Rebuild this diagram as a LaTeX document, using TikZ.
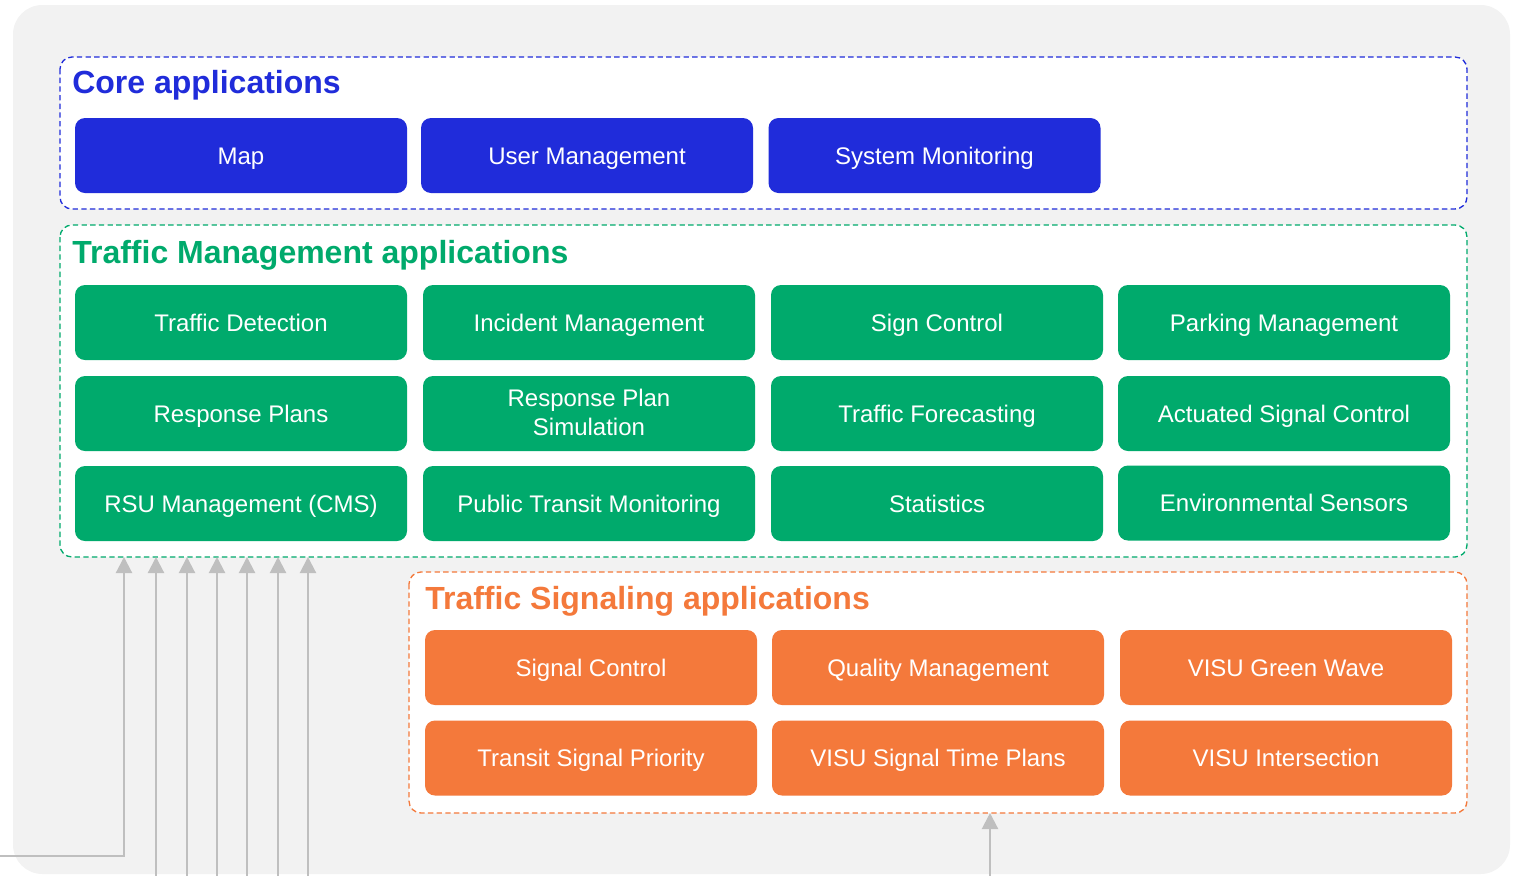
\documentclass[tikz,border=0pt]{standalone}
\usepackage{fontspec}
\setmainfont{Liberation Sans}
\usetikzlibrary{arrows.meta}
\definecolor{bgc}{HTML}{F2F2F2}
\definecolor{cblue}{HTML}{202CDA}
\definecolor{cgreen}{HTML}{00AA6C}
\definecolor{corange}{HTML}{F4793B}
\definecolor{cgray}{HTML}{BFBFBF}
\tikzset{
  appbox/.style={rounded corners=7.5pt, minimum width=249pt, minimum height=56.25pt, inner sep=0pt, text=white, align=center, font=\fontsize{18}{21.75}\selectfont, text height=12.96pt, text depth=0pt},
  bluebox/.style={appbox, fill=cblue},
  greenbox/.style={appbox, fill=cgreen},
  orangebox/.style={appbox, fill=corange},
  groupframe/.style={rounded corners=9pt, fill=white, line width=1pt, dash pattern=on 4pt off 2.5pt},
  grouptitle/.style={anchor=base west, inner sep=0pt, font=\fontsize{24}{28}\bfseries\selectfont},
  feed/.style={draw=cgray, line width=1.6pt, -{Triangle[length=12pt,width=12pt]}},
}
\begin{document}
\begin{tikzpicture}[x=0.75pt, y=-0.75pt]
\useasboundingbox (0,0) rectangle (1519,875);
\fill[bgc, rounded corners=22pt] (13,5) rectangle (1510,874);
% group frames
\draw[groupframe, draw=cblue] (60,57) rectangle (1467,209);
\draw[groupframe, draw=cgreen] (60,225) rectangle (1467,557);
\draw[groupframe, draw=corange] (409,572) rectangle (1467,813);
\node[grouptitle, text=cblue] (tcore) at (72,93) {Core applications};
\node[grouptitle, text=cgreen] (ttm) at (72,263) {Traffic Management applications};
\node[grouptitle, text=corange] (tts) at (425,609) {Traffic Signaling applications};
% core
\node[bluebox] (map) at (241,155.5) {Map};
\node[bluebox] (user) at (587,155.5) {User Management};
\node[bluebox] (sysmon) at (934.5,155.5) {System Monitoring};
% traffic management
\node[greenbox] (tdet) at (241,322.5) {Traffic Detection};
\node[greenbox] (inc) at (589,322.5) {Incident Management};
\node[greenbox] (sign) at (937,322.5) {Sign Control};
\node[greenbox] (park) at (1284,322.5) {Parking Management};
\node[greenbox] (resp) at (241,413.5) {Response Plans};
\node[greenbox, text height=33.3pt, text depth=0pt] (rsim) at (589,413.5) {Response Plan\\Simulation};
\node[greenbox] (fore) at (937,413.5) {Traffic Forecasting};
\node[greenbox] (act) at (1284,413.5) {Actuated Signal Control};
\node[greenbox] (rsu) at (241,503.5) {RSU Management (CMS)};
\node[greenbox] (ptm) at (589,503.5) {Public Transit Monitoring};
\node[greenbox] (stat) at (937,503.5) {Statistics};
\node[greenbox] (env) at (1284,503) {Environmental Sensors};
% traffic signaling
\node[orangebox] (sigc) at (591,667.5) {Signal Control};
\node[orangebox] (qual) at (938,667.5) {Quality Management};
\node[orangebox] (gw) at (1286,667.5) {VISU Green Wave};
\node[orangebox] (tsp) at (591,758) {Transit Signal Priority};
\node[orangebox] (stp) at (938,758) {VISU Signal Time Plans};
\node[orangebox] (isec) at (1286,758) {VISU Intersection};
% feed coordinates
\coordinate (s0) at (0,856);
\coordinate (k0) at (124,856);
\coordinate (e0) at (124,557);
\foreach \i/\x in {1/156,2/187,3/217,4/247,5/278,6/308}{
  \coordinate (s\i) at (\x,876);
  \coordinate (e\i) at (\x,557);
}
\coordinate (so) at (990,876);
\coordinate (eo) at (990,813);
\draw[feed] (s0) -- (k0) -- (e0);
\foreach \i in {1,...,6}{ \draw[feed] (s\i) -- (e\i); }
\draw[feed] (so) -- (eo);
\end{tikzpicture}
\end{document}
